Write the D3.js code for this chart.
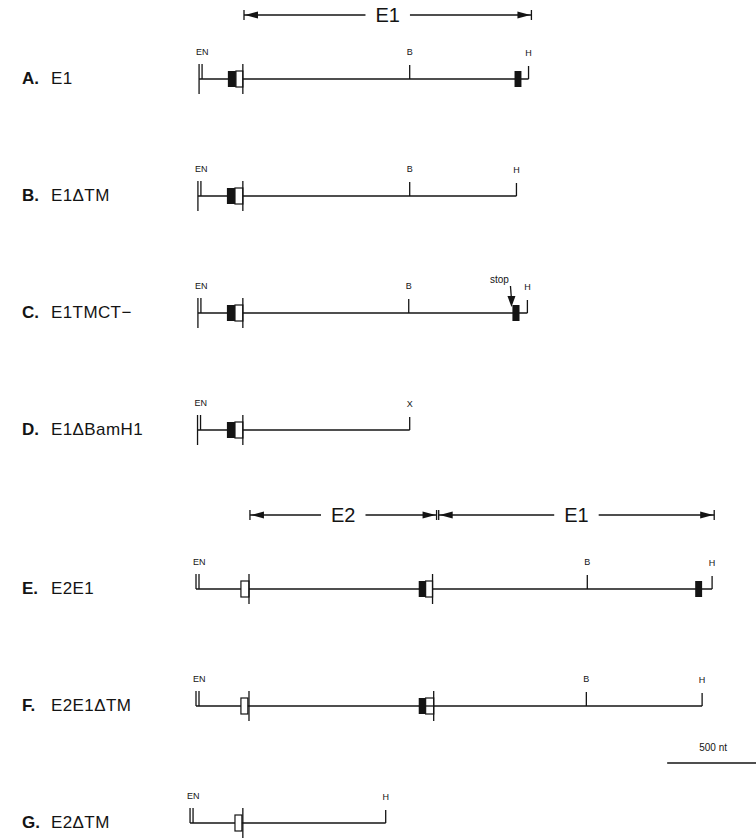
<!DOCTYPE html>
<html lang="en">
<head>
<meta charset="UTF-8">
<title>E1 / E2 expression constructs</title>
<style>
    body { margin: 0; background: #fff; }
    svg { display: block; font-family: "Liberation Sans", Arial, sans-serif; }
    .dna { stroke: #141414; stroke-width: 1.7; fill: none; }
    .tick { stroke: #141414; stroke-width: 1.3; fill: none; }
    .site { font-size: 9px; fill: #141414; }
    .letter { font-size: 17px; font-weight: bold; fill: #141414; }
    .name { font-size: 17px; fill: #141414; letter-spacing: 0.4px; }
    .span-label { font-size: 20px; fill: #141414; }
</style>
</head>
<body>
<svg id="map" width="756" height="838"></svg>
<script src="https://d3js.org/d3.v7.min.js"></script>
<script>
// constructs, top to bottom
const rowLetters = ['A.', 'B.', 'C.', 'D.', 'E.', 'F.', 'G.'];
const rowNames = ['E1', 'E1\u0394TM', 'E1TMCT\u2212', 'E1\u0394BamH1', 'E2E1', 'E2E1\u0394TM', 'E2\u0394TM'];

// positions in nt (0 = EcoRI/NotI site of E2E1)
const enSites = [16, 10, 10, 8, 0, 0, -31];
const endSites = [1732, 1669, 1726, 1113, 2688, 2636, 988];
const endLabels = ['H', 'H', 'H', 'X', 'H', 'H', 'H'];
const bamSites = [1113, 1113, 1108, null, 2038, 2033, null];
// [row, from, to]
const blackBoxes = [[0, 166, 208], [0, 1659, 1695], [1, 161, 203], [2, 161, 203], [2, 1648, 1685],
    [3, 161, 203], [4, 1160, 1196], [4, 2600, 2636], [5, 1160, 1196]];
const whiteBoxes = [[0, 208, 244], [1, 203, 244], [2, 203, 244], [3, 203, 244], [4, 234, 276],
    [4, 1196, 1232], [5, 234, 270], [5, 1196, 1238], [6, 203, 239]];
const splitBoxes = [[5, 1196, 1238]];
// [row, position]
const junctions = [[0, 244], [1, 244], [2, 244], [3, 244], [4, 276], [4, 1232], [5, 276], [5, 1238], [6, 244]];
const stopSites = [[2, 1643]];
// coding regions shown with arrows
const spanRows = [0, 4, 4];
const spanLabels = ['E1', 'E2', 'E1'];
const spanFrom = [250, 281, 1264];
const spanTo = [1747, 1253, 2699];
const scaleBarNt = 500;
const scaleBarStart = 2454;

const svg = d3.select('#map');
const x = d3.scaleLinear().domain([0, 500]).range([196, 292]);
const rowStep = 117, groupGap = 42;
const y = i => 79 + i * rowStep + (i >= 4 ? groupGap : 0);

// row labels
rowLetters.forEach((letter, i) => {
    svg.append('text').attr('class', 'letter').attr('x', 22).attr('y', y(i) + 5).text(letter);
    svg.append('text').attr('class', 'name').attr('x', 51).attr('y', y(i) + 5).text(rowNames[i]);
});

// backbone lines
rowNames.forEach((name, i) => {
    const g = svg.append('g').attr('transform', `translate(0,${y(i)})`);
    const x0 = x(enSites[i]), x1 = x(endSites[i]);
    g.append('line').attr('class', 'dna').attr('x1', x0).attr('x2', x1).attr('y1', 0).attr('y2', 0);

    // EN double site; first constructs cut through the line
    const through = i < 4;
    g.append('line').attr('class', 'tick').attr('x1', x0).attr('x2', x0).attr('y1', -15).attr('y2', through ? 15 : 0);
    g.append('line').attr('class', 'tick').attr('x1', x0 + 3).attr('x2', x0 + 3).attr('y1', -15).attr('y2', 0);
    g.append('text').attr('class', 'site').attr('x', x0 - 3).attr('y', -24).text('EN');

    // end site
    g.append('line').attr('class', 'tick').attr('x1', x1).attr('x2', x1).attr('y1', -13).attr('y2', 0);
    g.append('text').attr('class', 'site').attr('x', x1).attr('y', -23)
        .attr('text-anchor', 'middle').text(endLabels[i]);

    // BamHI
    if (bamSites[i] !== null) {
        const xb = x(bamSites[i]);
        g.append('line').attr('class', 'tick').attr('x1', xb).attr('x2', xb).attr('y1', -14).attr('y2', 0);
        g.append('text').attr('class', 'site').attr('x', xb).attr('y', -24)
            .attr('text-anchor', 'middle').text('B');
    }
});

// boxes
svg.selectAll('rect.black').data(blackBoxes).join('rect')
    .attr('class', 'black')
    .attr('x', d => x(d[1])).attr('width', d => x(d[2]) - x(d[1]))
    .attr('y', d => y(d[0]) - 8).attr('height', 16)
    .attr('fill', '#141414');

svg.selectAll('rect.white').data(whiteBoxes).join('rect')
    .attr('class', 'white')
    .attr('x', d => x(d[1])).attr('width', d => x(d[2]) - x(d[1]))
    .attr('y', d => y(d[0]) - 8).attr('height', 16)
    .attr('fill', '#fff').attr('stroke', '#141414').attr('stroke-width', 1.2);

svg.selectAll('line.split').data(splitBoxes).join('line')
    .attr('class', 'tick split')
    .attr('x1', d => x(d[1])).attr('x2', d => x(d[2]))
    .attr('y1', d => y(d[0])).attr('y2', d => y(d[0]));

svg.selectAll('line.junction').data(junctions).join('line')
    .attr('class', 'tick junction')
    .attr('x1', d => x(d[1])).attr('x2', d => x(d[1]))
    .attr('y1', d => y(d[0]) - 15).attr('y2', d => y(d[0]) + 15);

// stop codon
stopSites.forEach(([row, pos]) => {
    const xs = x(pos), ys = y(row);
    svg.append('line').attr('class', 'tick').attr('x1', xs - 1).attr('x2', xs).attr('y1', ys - 27).attr('y2', ys - 14);
    svg.append('path').attr('d', `M${xs - 4},${ys - 17}L${xs + 4},${ys - 17}L${xs},${ys - 6}Z`).attr('fill', '#141414');
    svg.append('text').attr('class', 'site').style('font-size', '10px')
        .attr('x', xs - 12).attr('y', ys - 30).attr('text-anchor', 'middle').text('stop');
});

// coding region arrows
spanLabels.forEach((label, k) => {
    const row = spanRows[k];
    const yy = row === 0 ? 15 : y(row) - 74;
    const xa = x(spanFrom[k]), xb = x(spanTo[k]);
    const xm = (xa + xb) / 2;
    const t = svg.append('text').attr('class', 'span-label').attr('x', xm).attr('y', yy + 7)
        .attr('text-anchor', 'middle').text(label);
    const half = t.node().getComputedTextLength() / 2 + 10;
    svg.append('line').attr('class', 'tick').attr('x1', xa).attr('x2', xm - half).attr('y1', yy).attr('y2', yy);
    svg.append('line').attr('class', 'tick').attr('x1', xm + half).attr('x2', xb).attr('y1', yy).attr('y2', yy);
    svg.append('line').attr('class', 'tick').attr('x1', xa).attr('x2', xa).attr('y1', yy - 5).attr('y2', yy + 5);
    svg.append('line').attr('class', 'tick').attr('x1', xb).attr('x2', xb).attr('y1', yy - 5).attr('y2', yy + 5);
    svg.append('path').attr('d', `M${xa + 1},${yy}L${xa + 14},${yy - 3.5}L${xa + 14},${yy + 3.5}Z`).attr('fill', '#141414');
    svg.append('path').attr('d', `M${xb - 1},${yy}L${xb - 14},${yy - 3.5}L${xb - 14},${yy + 3.5}Z`).attr('fill', '#141414');
});

// scale bar
const sb0 = x(scaleBarStart), sb1 = x(scaleBarStart + scaleBarNt);
svg.append('line').attr('class', 'dna').attr('x1', sb0).attr('x2', sb1).attr('y1', 763).attr('y2', 763);
svg.append('text').attr('class', 'site').style('font-size', '10px')
    .attr('x', (sb0 + sb1) / 2 - 2).attr('y', 751).attr('text-anchor', 'middle').text(scaleBarNt + ' nt');
</script>
</body>
</html>
